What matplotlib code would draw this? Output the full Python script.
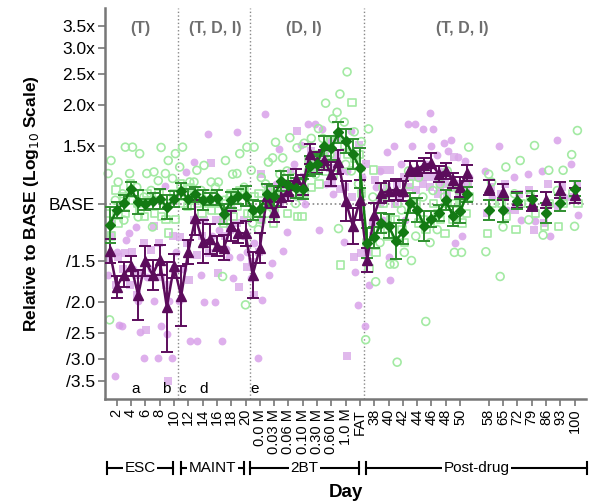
import numpy as np
import matplotlib.pyplot as plt
from matplotlib.transforms import blended_transform_factory

plt.rcParams['font.family'] = ['Liberation Sans', 'DejaVu Sans']

# x tick labels (sessions, every second slot)
tick_labels = ['2', '4', '6', '8', '10', '12', '14', '16', '18', '20',
               '0.0 M', '0.03 M', '0.06 M', '0.10 M', '0.30 M', '0.60 M', '1.0 M', 'FAT',
               '38', '40', '42', '44', '46', '48', '50',
               '58', '65', '72', '79', '86', '93', '100']
ytick_ratios = [3.5, 3.0, 2.5, 2.0, 1.5, 1.0, 1 / 1.5, 1 / 2.0, 1 / 2.5, 1 / 3.0, 1 / 3.5]
ytick_labels = ['3.5x', '3.0x', '2.5x', '2.0x', '1.5x', 'BASE', '/1.5', '/2.0', '/2.5', '/3.0', '/3.5']
phase_labels = ['(T)', '(T, D, I)', '(D, I)', '(T, D, I)']
stages = ['ESC', 'MAINT', '2BT', 'Post-drug']
notes = ['a', 'b', 'c', 'd', 'e']

# group means, log10(value / BASE): 51 daily sessions then 7 weekly
green_mean = [-0.066, -0.020, 0.002, 0.044, 0.005, -0.003, 0.008, 0.015, -0.010, 0.013,
              0.039, 0.013, 0.028, 0.010, 0.013, 0.018, -0.031, 0.010, 0.022, 0.022,
              -0.020, -0.017, 0.028, 0.024, 0.069, 0.058, 0.047, 0.044, 0.116, 0.122,
              0.177, 0.171, 0.218, 0.192, 0.151, 0.108, -0.122, -0.104, -0.059, -0.069,
              -0.114, -0.087, 0.002, -0.020, -0.069, -0.048, -0.029, 0.010, -0.039, -0.023, 0.028,
              -0.020, -0.020, 0.007, 0.013, -0.029, 0.002, 0.046]
green_sem = [0.055, 0.024, 0.024, 0.022, 0.037, 0.018, 0.024, 0.031, 0.037, 0.024,
             0.024, 0.031, 0.024, 0.031, 0.018, 0.024, 0.031, 0.024, 0.024, 0.031,
             0.031, 0.024, 0.031, 0.031, 0.031, 0.031, 0.031, 0.031, 0.031, 0.031,
             0.031, 0.037, 0.031, 0.037, 0.046, 0.061, 0.046, 0.031, 0.031, 0.037,
             0.055, 0.037, 0.031, 0.037, 0.046, 0.024, 0.024, 0.031, 0.031, 0.037, 0.024,
             0.031, 0.037, 0.024, 0.024, 0.031, 0.024, 0.024]
purple_mean = [-0.146, -0.255, -0.218, -0.192, -0.281, -0.177, -0.219, -0.172, -0.318, -0.193,
               -0.284, -0.148, -0.043, -0.117, -0.110, -0.131, -0.135, -0.069, -0.090, -0.092,
               -0.219, -0.138, 0.022, -0.026, 0.021, 0.039, 0.074, 0.056, 0.152, 0.126,
               0.133, 0.090, 0.127, 0.007, -0.068, 0.010, -0.172, -0.036, 0.032, 0.038,
               0.043, 0.038, 0.107, 0.107, 0.117, 0.124, 0.090, 0.099, 0.071, 0.051, 0.094,
               0.049, 0.036, 0.010, 0.000, 0.010, 0.041, 0.025]
purple_sem = [0.037, 0.034, 0.037, 0.031, 0.076, 0.046, 0.046, 0.046, 0.138, 0.037,
              0.092, 0.037, 0.055, 0.067, 0.046, 0.031, 0.037, 0.046, 0.031, 0.037,
              0.070, 0.046, 0.037, 0.031, 0.031, 0.031, 0.031, 0.031, 0.031, 0.031,
              0.031, 0.037, 0.037, 0.061, 0.055, 0.061, 0.037, 0.037, 0.031, 0.031,
              0.031, 0.031, 0.024, 0.024, 0.024, 0.031, 0.024, 0.024, 0.024, 0.031, 0.024,
              0.024, 0.024, 0.024, 0.024, 0.024, 0.024, 0.024]

# individual subjects per session (log10 units)
green_circ = [[0.132, 0.092, -0.357], [0.066, 0.01], [0.173, 0.03, -0.051], [0.173, 0.092],
              [0.153, 0.05, -0.041], [0.092, 0.02], [0.097, 0.04, -0.072], [0.172, 0.07],
              [0.132, 0.092, 0.0], [0.153, 0.077], [0.173, 0.112], [0.066, 0.03],
              [0.102, 0.066], [0.117, 0.04], [0.066, 0.03], [0.066, 0.05],
              [0.132, -0.224, 0.01], [0.09, 0.02], [0.153, 0.092], [0.173, 0.05, -0.311],
              [0.173, 0.102, -0.06], [0.08, -0.08], [0.127, 0.06, -0.03], [0.188, 0.14, -0.02],
              [0.14, 0.09], [0.202, 0.10], [0.171, 0.08, 0.0], [0.185, 0.06],
              [0.20, 0.10], [0.23, 0.09], [0.308, 0.20, 0.12], [0.26, 0.15],
              [0.336, 0.28, -0.077], [0.404, 0.25, 0.12], [0.22, 0.10], [0.19, 0.06],
              [0.229, -0.418], [-0.24, 0.02], [0.05, -0.12], [-0.186, 0.03],
              [-0.487, -0.186], [-0.15, -0.02], [-0.175, 0.10], [0.08, -0.10],
              [-0.362, 0.02], [0.04, -0.12], [0.06, -0.08], [0.10, 0.02],
              [-0.15, 0.05], [-0.15, 0.04], [0.173, 0.06],
              [0.066, -0.148, 0.09], [0.112, -0.224, -0.072], [0.132, 0.03], [0.178, -0.05],
              [0.102, -0.097], [0.102, 0.04], [0.224, 0.15, -0.07]]
green_sq = [[-0.03, -0.10], [0.041, -0.06], [0.02, -0.03], [0.06, 0.01], [0.0, -0.02],
            [-0.04, 0.03], [0.01, -0.03], [0.03, -0.04], [-0.05, -0.09], [0.03, -0.05],
            [0.06, 0.0], [-0.01, 0.05], [0.01, 0.0], [-0.03, 0.01], [0.0, -0.02],
            [0.0, -0.02], [-0.06, 0.0], [0.03, -0.04], [-0.01, 0.04], [0.03, -0.03],
            [-0.03, 0.02], [0.03, -0.05], [0.0, 0.04], [-0.06, 0.03], [0.02, 0.06],
            [-0.031, 0.05], [0.03, -0.04], [-0.04, 0.03], [0.13, 0.05], [0.15, 0.06],
            [0.14, 0.10], [0.19, 0.09], [0.20, -0.189], [0.18, 0.15], [0.311, 0.14],
            [0.15, 0.03], [-0.12, -0.20], [0.103, -0.15], [-0.08, 0.0], [-0.10, -0.05],
            [-0.05, 0.0], [-0.08, -0.12], [0.06, 0.0], [0.0, -0.06], [-0.05, -0.08],
            [-0.06, 0.0], [-0.03, -0.05], [-0.092, 0.0], [-0.05, 0.0], [0.0, -0.06],
            [-0.03, 0.02],
            [-0.092, 0.0], [0.0, -0.04], [-0.08, 0.0], [0.02, -0.03], [-0.07, 0.0],
            [-0.07, 0.0], [0.03, 0.0]]
purple_circ = [[-0.219, -0.06], [-0.530, -0.372, -0.15], [-0.377, -0.112], [-0.091, -0.20],
               [-0.072, -0.393, -0.30], [-0.473, -0.224], [-0.20, -0.30], [-0.473, -0.377],
               [0.053, -0.30, -0.40], [-0.473, -0.15], [-0.30, -0.20], [0.097, -0.423],
               [0.127, -0.423], [-0.219, -0.301], [0.214, -0.10], [-0.301, -0.08],
               [-0.423, -0.14], [-0.163, -0.228], [0.219, -0.163], [-0.10, -0.15],
               [-0.229, -0.12], [-0.474, -0.296, -0.05], [0.275, -0.219], [-0.183, 0.06],
               [0.168, -0.145], [-0.087, 0.10], [0.12, 0.02], [0.18, 0.0],
               [0.245, 0.10], [0.245, -0.08], [0.23, 0.06], [0.19, 0.03],
               [0.20, 0.10], [-0.117, 0.10], [0.224, -0.209], [-0.311, 0.08],
               [-0.377, -0.25], [-0.06, 0.05], [0.10, -0.05], [0.158, -0.235, -0.163],
               [0.178, 0.02], [0.12, -0.05], [0.243, 0.178], [0.243, 0.10],
               [0.229, 0.12], [0.277, 0.229, 0.178], [0.15, 0.10], [0.185, 0.16],
               [0.194, -0.122], [0.143, -0.10], [0.132, 0.08],
               [0.10, 0.02], [0.178, -0.02], [0.08, -0.05], [0.09, -0.053],
               [0.10, -0.10], [0.194, 0.02], [0.12, -0.036]]
purple_sq = [[-0.097, -0.17], [-0.163, -0.25], [-0.151, -0.20], [-0.15, -0.25], [-0.22, -0.28],
             [-0.387, -0.12], [-0.069, -0.143], [-0.224, -0.12], [-0.545, -0.25], [-0.20, -0.10],
             [0.035, -0.102], [-0.235, -0.12], [-0.158, -0.05], [-0.05, -0.10], [0.124, -0.152],
             [-0.214, -0.05], [-0.10, -0.05], [-0.02, -0.08], [-0.255, -0.06], [-0.194, -0.05],
             [-0.28, -0.18], [0.092, -0.15], [0.05, 0.0], [-0.03, 0.02], [0.04, 0.0],
             [0.06, 0.02], [0.222, 0.05], [0.08, 0.02], [0.16, 0.13], [0.15, 0.10],
             [0.16, 0.12], [0.06, 0.11], [0.046, 0.15], [-0.469, 0.05], [-0.163, 0.02],
             [-0.152, 0.181], [-0.15, 0.122], [0.071, -0.10], [0.102, 0.0], [0.102, 0.05],
             [0.06, 0.0], [0.08, 0.03], [0.08, 0.05], [0.081, 0.04], [0.081, 0.06],
             [0.081, 0.05], [0.05, 0.03], [0.03, 0.06], [0.143, 0.05], [0.06, 0.02],
             [0.06, 0.04],
             [0.05, -0.03], [0.06, 0.03], [0.03, -0.02], [-0.082, 0.04], [0.06, -0.059],
             [0.05, -0.012], [0.06, 0.02]]

# slot layout: daily sessions 1..51, gap, weekly sessions every 2 slots
pos = np.r_[np.arange(1, 52), np.arange(54, 67, 2)]
step = np.r_[np.ones(51), np.full(7, 2.0)]
tick_pos = np.r_[np.arange(2, 51, 2), np.arange(54, 67, 2)]
n_daily = 51

fig = plt.figure(figsize=(5.89, 5.04), dpi=100)
ax = fig.add_axes([0.1783, 0.2083, 0.8166, 0.7758])

GREEN = '#137a13'
GREEN_ERR = '#2f8f2f'
PURPLE = '#5c0c5c'
LGREEN = '#a3eaa3'
LPURPLE = '#d69be8'


def draw_points(vals, offs, **kw):
    xs, ys = [], []
    for x, s, day_vals in zip(pos, step, vals):
        for k, v in enumerate(day_vals):
            xs.append(x + offs[k % len(offs)] * s)
            ys.append(v)
    ax.scatter(xs, ys, clip_on=False, **kw)


draw_points(purple_circ, [-0.25, 0.25, 0.0], s=32, color=LPURPLE, alpha=0.8, lw=0, zorder=2)
draw_points(purple_sq, [0.15, -0.15], s=28, marker='s', color='#d9a8e8', alpha=0.8, lw=0, zorder=2)
draw_points(green_circ, [0.2, -0.2, 0.0], s=32, facecolors='none', edgecolors=LGREEN, lw=1.2, zorder=2)
draw_points(green_sq, [-0.1, 0.25], s=28, marker='s', facecolors='none', edgecolors=LGREEN, lw=1.2, zorder=2)

# dotted reference lines
ax.axhline(0, color='#888888', ls=':', lw=1.2, zorder=1)
for xv in [10.6, 20.6, 36.5]:
    ax.axvline(xv, color='#888888', ls=':', lw=1.0, zorder=1)

# group means with SEM
for mean, sem, col, ecol, mk, ms in [(purple_mean, purple_sem, PURPLE, PURPLE, '^', 7),
                                     (green_mean, green_sem, GREEN, GREEN_ERR, 'D', 5.5)]:
    ax.errorbar(pos, mean, yerr=sem, fmt='none', ecolor=ecol, elinewidth=1.4,
                capsize=4, capthick=1.4, zorder=3)
    ax.plot(pos[:n_daily], mean[:n_daily], color=col, lw=1.8, zorder=4)
    ax.plot(pos, mean, ls='none', marker=mk, color=col, ms=ms, zorder=5)

ax.set_xlim(0.36, 67.6)
ax.set_ylim(-0.6, 0.6)

ax.set_yticks(np.log10(ytick_ratios))
ax.set_yticklabels(ytick_labels, fontsize=12.5)
ax.set_xticks(tick_pos)
ax.set_xticklabels(tick_labels, rotation=90, fontsize=10.5)
ax.tick_params(axis='both', direction='out', length=5, width=1.2, color='#777777', pad=2)

for side in ['top', 'right']:
    ax.spines[side].set_visible(False)
for side in ['left', 'bottom']:
    ax.spines[side].set_color('#777777')
    ax.spines[side].set_linewidth(1.8)

ax.set_ylabel('Relative to BASE (Log$_{10}$ Scale)', fontsize=12.5, fontweight='bold', labelpad=6)
ax.set_xlabel('Day', fontsize=13.5, fontweight='bold')
ax.xaxis.set_label_coords(0.5, -0.238)
ax.xaxis.label.set_va('center')

# phase annotations at top
for lbl, xv in zip(phase_labels, [5.3, 15.8, 28.1, 50.3]):
    ax.text(xv, 0.536, lbl, ha='center', va='center', fontsize=11.5, fontweight='bold', color='#6e6e6e')

# small letter notes near bottom
for lbl, xv in zip(notes, [4.7, 8.9, 11.1, 14.1, 21.3]):
    ax.text(xv, -0.568, lbl, ha='center', va='center', fontsize=11)

# stage brackets below tick labels
tr = blended_transform_factory(ax.transData, fig.transFigure)
yb = 1 - 468 / 504
cap = 6 / 504
for lbl, (x0, x1) in zip(stages, [(0.6, 9.9), (10.95, 19.8), (20.6, 35.9), (36.9, 67.7)]):
    ax.plot([x0, x1], [yb, yb], color='black', lw=1.5, transform=tr, clip_on=False)
    for xe in (x0, x1):
        ax.plot([xe, xe], [yb - cap, yb + cap], color='black', lw=1.5, transform=tr, clip_on=False)
    ax.text((x0 + x1) / 2, yb, lbl, ha='center', va='center', fontsize=11, transform=tr,
            bbox=dict(facecolor='white', edgecolor='none', pad=1.0))

fig.savefig('out.png', dpi=100)
